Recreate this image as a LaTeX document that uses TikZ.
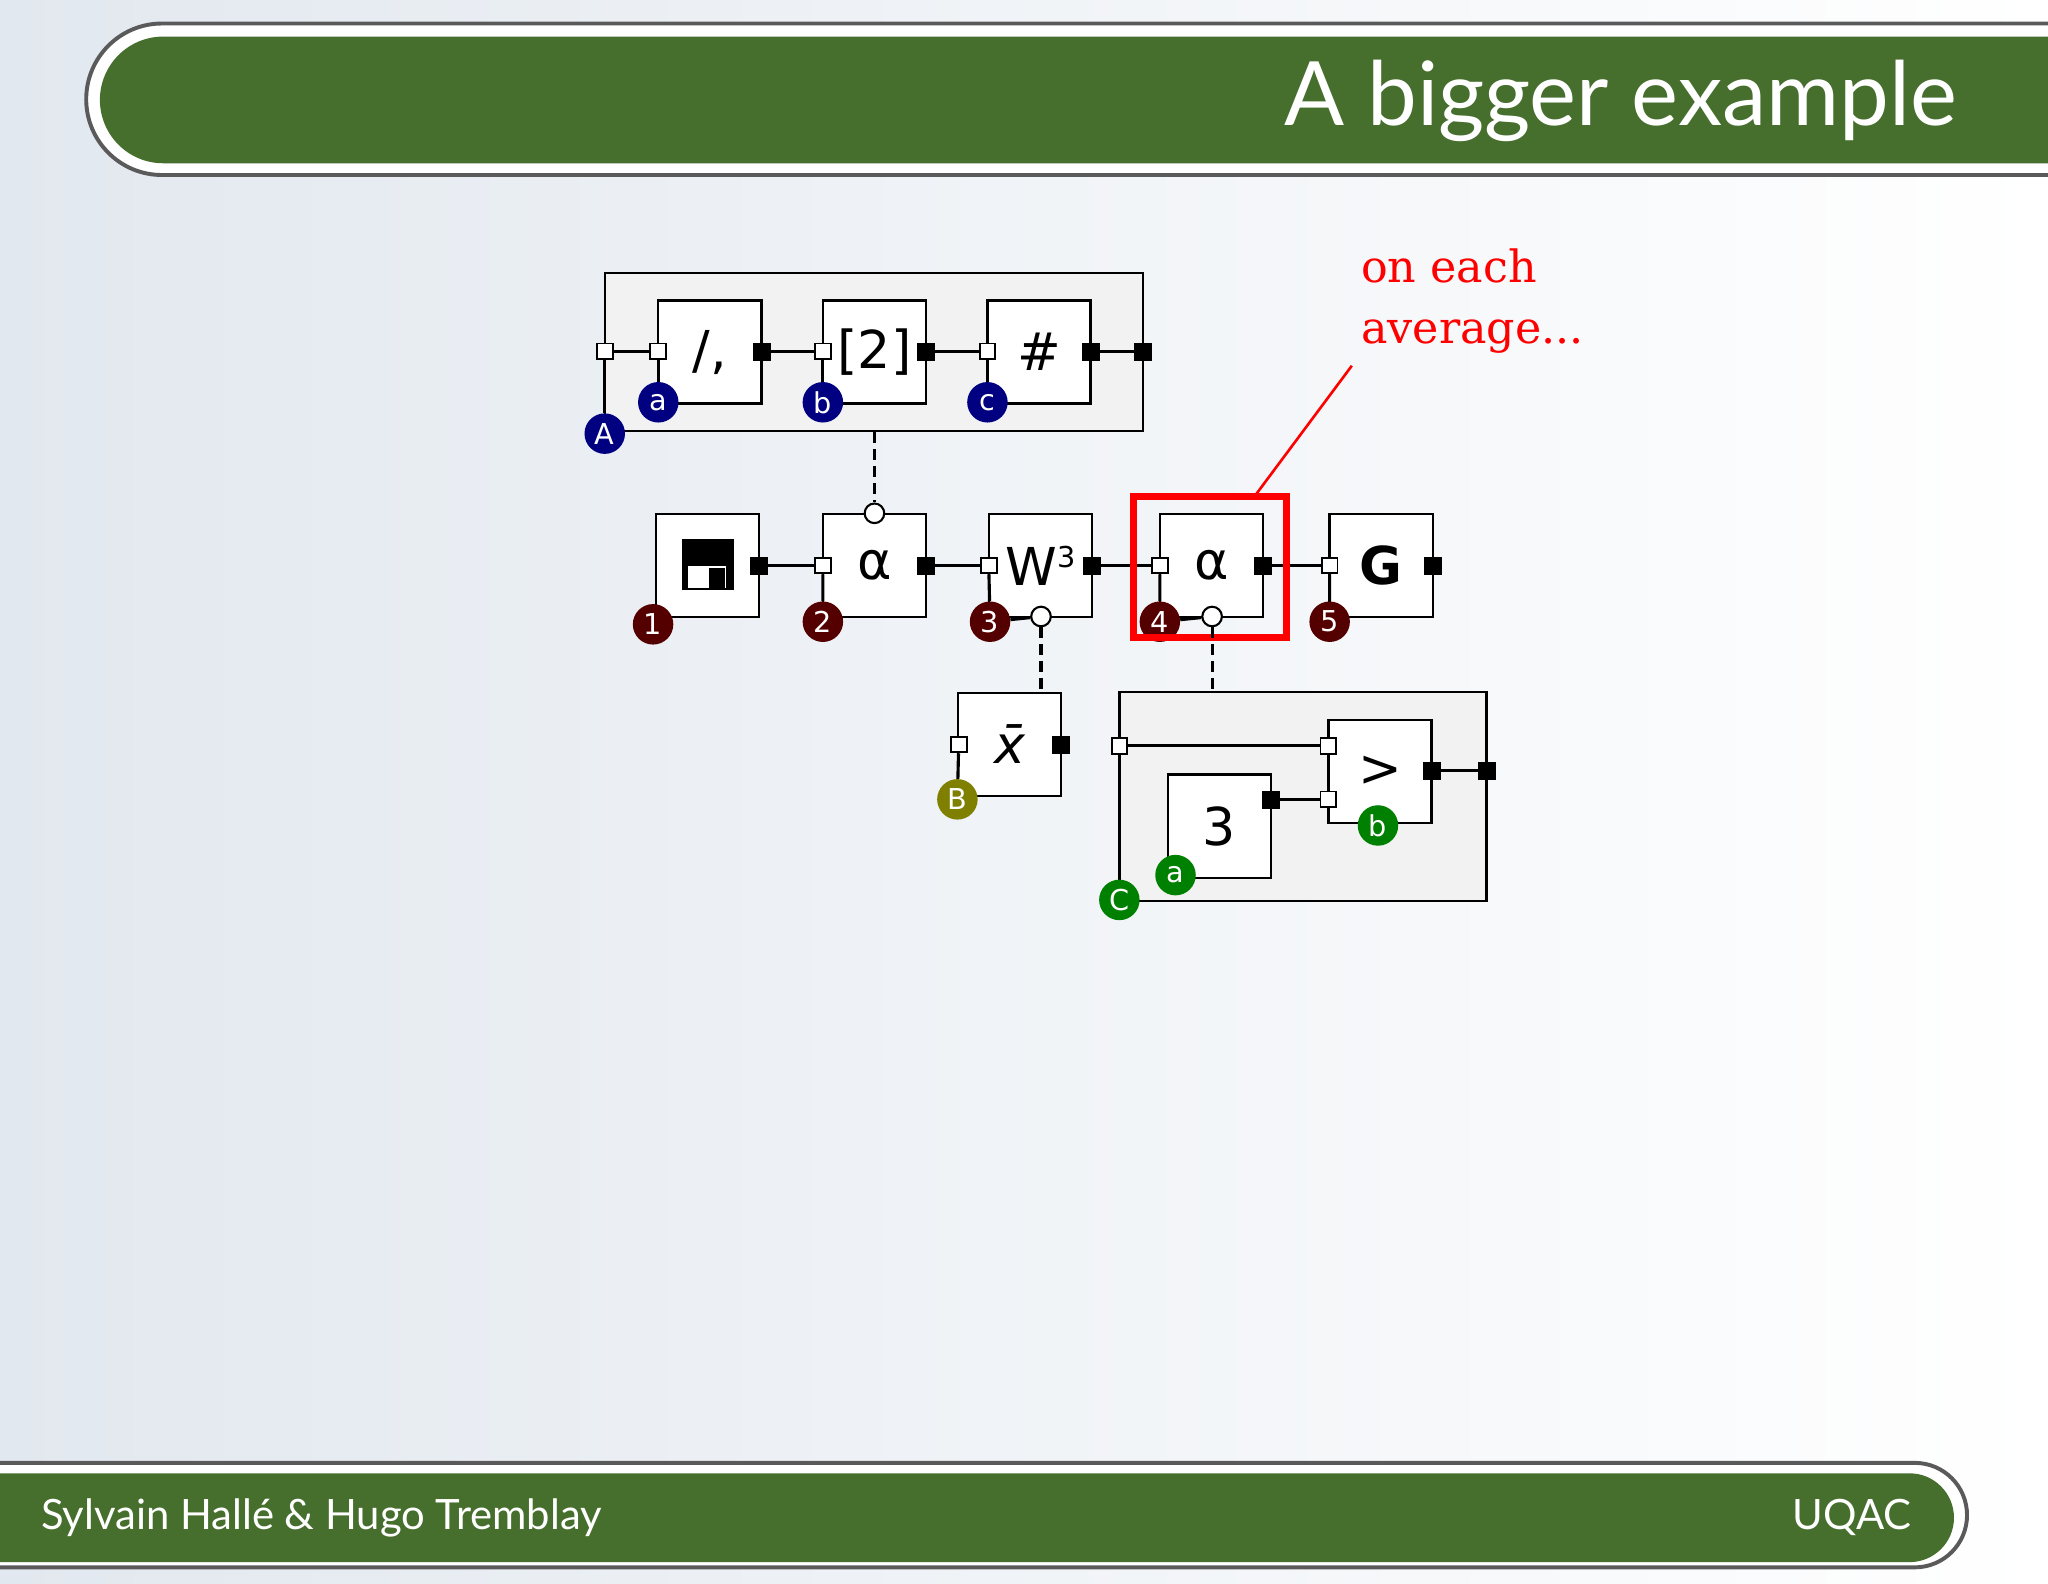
\documentclass[tikz,border=0pt]{standalone}
\usepackage{fontspec}
\setmainfont{DejaVu Sans}
\newfontfamily\gill{Lato}
\newfontfamily\dserif{DejaVu Serif}
\begin{document}
\begin{tikzpicture}[x=1pt,y=-1pt,
  box/.style={draw,fill=white,line width=1.8pt,minimum size=79pt,inner sep=0pt,font=\fontsize{40}{40}\selectfont},
  grp/.style={draw,fill=black!5,line width=1.8pt},
  inp/.style={draw,fill=white,line width=1.5pt,minimum size=12pt,inner sep=0pt},
  outp/.style={draw,fill=black,minimum size=13pt,inner sep=0pt},
  lab/.style={circle,fill=#1,text=white,minimum size=31pt,inner sep=0pt,font=\fontsize{22}{22}\selectfont},
  wire/.style={line width=2.4pt},
  dwire/.style={line width=2.4pt,dash pattern=on 8pt off 5pt},
  ctl/.style={circle,draw,fill=white,line width=1.6pt,minimum size=15pt,inner sep=0pt}]
\useasboundingbox (0,0) rectangle (1568,1212);
\shade[left color={rgb,255:red,226;green,232;blue,239}, right color=white] (0,0) rectangle (1568,1212);
% header
\definecolor{hg}{RGB}{70,110,45}
\definecolor{ring}{RGB}{90,90,90}
\draw[ring,line width=3pt,fill=white] (1568,18) -- (124,18) arc[start angle=270,end angle=90,radius=58] -- (1568,134);
\fill[hg] (1568,28) -- (125,28) arc[start angle=270,end angle=90,radius=48.5] -- (1568,125) -- cycle;
\node[anchor=east,text=white,font=\gill\fontsize{68}{70}\selectfont] (title) at (1502,77) {A bigger example};
% footer
\draw[ring,line width=3pt,fill=white] (0,1120) -- (1466,1120) arc[start angle=-90,end angle=90,radius=40] -- (0,1200);
\fill[hg] (0,1128) -- (1462,1128) arc[start angle=-90,end angle=90,radius=34] -- (0,1196) -- cycle;
\node[anchor=west,text=white,font=\gill\fontsize{32}{34}\selectfont] (ft) at (28,1162) {Sylvain Hallé \& Hugo Tremblay};
\node[anchor=east,text=white,font=\gill\fontsize{32}{34}\selectfont] (uq) at (1467,1162) {UQAC};
% group A
\definecolor{lblue}{RGB}{0,0,128}
\definecolor{lred}{RGB}{85,0,0}
\definecolor{lolive}{RGB}{128,128,0}
\definecolor{lgreen}{RGB}{0,128,0}
\node[grp,minimum width=412pt,minimum height=121pt,inner sep=0pt] (gA) at (669,269.5) {};
\node[box] (p1) at (543.5,269.5) {/,};
\node[box] (p2) at (669.5,269.5) {[2]};
\node[box] (p3) at (795.5,269.5) {\#};
\node[inp] (gAi) at (463,269) {};
\node[outp] (gAo) at (875,269) {};
\node[inp] (p1i) at (504,269) {};
\node[outp] (p1o) at (583,269) {};
\node[inp] (p2i) at (630,269) {};
\node[outp] (p2o) at (709,269) {};
\node[inp] (p3i) at (756,269) {};
\node[outp] (p3o) at (835,269) {};
\draw[wire] (gAi)--(p1i) (p1o)--(p2i) (p2o)--(p3i) (p3o)--(gAo);
\node[lab=lblue] (lA) at (463,332) {A};
\node[lab=lblue] (la) at (504,308) {a};
\node[lab=lblue] (lb) at (630,308) {b};
\node[lab=lblue] (lc) at (756,308) {c};
\draw[wire] (gAi)--(lA) (p1i)--(la) (p2i)--(lb) (p3i)--(lc);
% row 2
\node[box] (q1) at (541.5,433) {};
\fill (522,413) rectangle (562,452);
\fill[white] (527,433) rectangle (556,450);
\fill (543,435) rectangle (555,450);
\node[box] (q2) at (669.5,433) {α};
\node[box] (q3) at (796.5,433) {W\raisebox{14pt}{\fontsize{22}{22}\selectfont 3}};
\node[box] (q4) at (927.5,433) {α};
\node[box,font=\fontsize{40}{40}\selectfont\bfseries] (q5) at (1057.5,433) {G};
\node[outp] (q1o) at (581,433) {};
\node[inp] (q2i) at (630,433) {};
\node[outp] (q2o) at (709,433) {};
\node[inp] (q3i) at (757,433) {};
\node[outp] (q3o) at (836,433) {};
\node[inp] (q4i) at (888,433) {};
\node[outp] (q4o) at (967,433) {};
\node[inp] (q5i) at (1018,433) {};
\node[outp] (q5o) at (1097,433) {};
\draw[wire] (q1o)--(q2i) (q2o)--(q3i) (q3o)--(q4i) (q4o)--(q5i);
\node[lab=lred] (l1) at (500,478) {1};
\node[lab=lred] (l2) at (630,476) {2};
\node[lab=lred] (l3) at (758,476) {3};
\node[lab=lred] (l4) at (888,476) {4};
\node[lab=lred] (l5) at (1018,476) {5};
\draw[wire] (q2i)--(l2) (q3i)--(l3) (q4i)--(l4) (q5i)--(l5);
\node[ctl] (c2) at (669.5,393) {};
\node[ctl] (c3) at (797,472) {};
\node[ctl] (c4) at (928,472) {};
\draw[wire] (l3)--(c3) (l4)--(c4);
\draw[dwire] (gA.south -| c2)--(c2);
% red highlight
\draw[red,line width=5.5pt] (868,380) rectangle (985,488);
\coordinate (rt) at (1035,280);
\coordinate (rb) at (962,378);
\draw[red,line width=2pt] (rt)--(rb);
\node[anchor=north west,align=left,text=red,font=\dserif\fontsize{34}{47}\selectfont,inner sep=0pt] (note) at (1042,190) {on each\\average...};
% x-bar
\node[box] (xb) at (773,570) {\itshape x̄};
\node[inp] (xbi) at (734,570) {};
\node[outp] (xbo) at (812,570) {};
\node[lab=lolive] (lB) at (733,612) {B};
\draw[wire] (xbi)--(lB);
\draw[dwire] (c3)--(xb.north -| c3);
% group C
\node[grp,minimum width=281pt,minimum height=160pt,inner sep=0pt] (gC) at (997.5,610) {};
\node[box] (r1) at (933.5,632.5) {3};
\node[box] (r2) at (1056.5,590.5) {>};
\node[inp] (gCi) at (857,571) {};
\node[outp] (gCo) at (1138,590) {};
\node[outp] (r1o) at (973,612) {};
\node[inp] (r2i1) at (1017,571) {};
\node[inp] (r2i2) at (1017,612) {};
\node[outp] (r2o) at (1096,590) {};
\draw[wire] (gCi)--(r2i1) (r1o)--(r2i2) (r2o)--(gCo) (r2i1)--(r2i2);
\node[lab=lgreen] (lC) at (857,689) {C};
\node[lab=lgreen] (la2) at (900,670) {a};
\node[lab=lgreen] (lb2) at (1055,632) {b};
\draw[wire] (gCi)--(lC);
\draw[dwire] (c4)--(gC.north -| c4);
\end{tikzpicture}
\end{document}
